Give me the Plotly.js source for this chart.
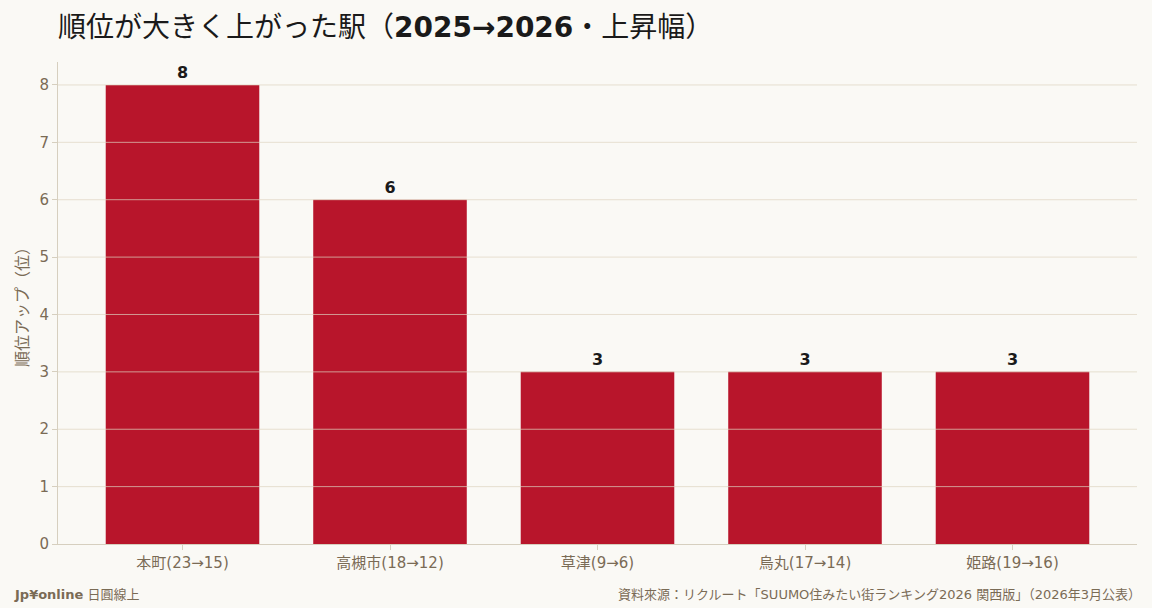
<!DOCTYPE html>
<html>
<head>
<meta charset="utf-8">
<script src="https://cdn.plot.ly/plotly-3.0.1.min.js"></script>
<style>
  html, body { margin: 0; padding: 0; background: #faf9f5; }
  #chart { width: 1152px; height: 608px; }
</style>
</head>
<body>
<div id="chart"></div>
<script>
const stations = ["本町(23→15)", "高槻市(18→12)", "草津(9→6)", "烏丸(17→14)", "姫路(19→16)"]
const rankUp = [8, 6, 3, 3, 3]
const yTicks = [1, 2, 3, 4, 5, 6, 7, 8]

const FONT = "DejaVu Sans, Noto Sans CJK JP, sans-serif"
const barColor = "#b8152b"
const mutedText = "#7a6b55"

const trace = {
    type: "bar",
    x: stations,
    y: rankUp,
    marker: {color: barColor},
    text: rankUp.map((v) => "<b>" + v + "</b>"),
    textposition: "outside",
    textfont: {family: FONT, size: 16, color: "#1a1a1a"},
    cliponaxis: false,
    hoverinfo: "x+y",
}

// grid lines are drawn on top of the bars in the reference, so use shapes instead of axis grid
const gridShapes = yTicks.map((t) => ({
    type: "line",
    xref: "paper", yref: "y",
    x0: 0, x1: 1, y0: t, y1: t,
    layer: "above",
    line: {color: "rgba(222,212,192,0.7)", width: 1},
}))

const layout = {
    width: 1152,
    height: 608,
    paper_bgcolor: "#faf9f5",
    plot_bgcolor: "#faf9f5",
    font: {family: FONT, color: mutedText},
    margin: {l: 58, r: 15, t: 62, b: 64},
    bargap: 0.26,
    showlegend: false,
    title: {
        text: "順位が大きく上がった駅（<b>2025→2026</b>・上昇幅）",
        x: 0, xref: "paper", xanchor: "left",
        y: 0.955, yanchor: "middle",
        font: {family: FONT, size: 28, color: "#1a1a1a"},
    },
    xaxis: {
        range: [-0.6, 4.6],
        showgrid: false,
        showline: true,
        linecolor: "#d6cfbf",
        linewidth: 1,
        ticks: "outside",
        ticklen: 5,
        tickcolor: "#d6cfbf",
        tickfont: {family: FONT, size: 15, color: mutedText},
    },
    yaxis: {
        range: [0, 8.4],
        dtick: 1,
        showgrid: false,
        zeroline: false,
        showline: true,
        linecolor: "#d6cfbf",
        ticks: "outside",
        ticklen: 5,
        tickcolor: "#d6cfbf",
        tickfont: {family: FONT, size: 15, color: mutedText},
        title: {text: "順位アップ（位）", font: {family: FONT, size: 16, color: mutedText}, standoff: 6},
    },
    shapes: gridShapes,
    annotations: [
        {
            text: "<b>Jp¥online</b> 日圓線上",
            xref: "paper", yref: "paper", x: -0.043, y: -0.105,
            xanchor: "left", yanchor: "middle", showarrow: false,
            font: {family: FONT, size: 13, color: mutedText},
        },
        {
            text: "資料來源：リクルート「SUUMO住みたい街ランキング2026 関西版」（2026年3月公表）",
            xref: "paper", yref: "paper", x: 1.0, y: -0.105, xshift: 6,
            xanchor: "right", yanchor: "middle", showarrow: false,
            font: {family: FONT, size: 13, color: mutedText},
        },
    ],
}

Plotly.newPlot("chart", [trace], layout, {displayModeBar: false})
</script>
</body>
</html>
